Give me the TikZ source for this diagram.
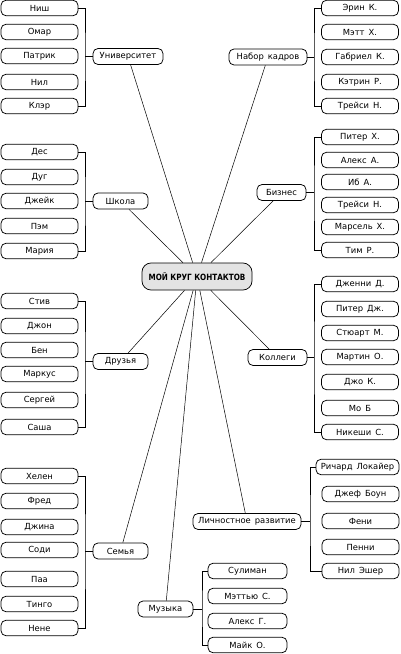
\documentclass[tikz,border=0pt]{standalone}
\usepackage{fontspec}
\setmainfont{DejaVu Sans}[WordSpace=1.5]
\newfontfamily\titlefont{DejaVu Sans}[FakeStretch=0.84]
\begin{document}
\begin{tikzpicture}[x=1pt,y=-1pt,
  box/.style={draw, rounded corners=5pt, line width=0.75pt, minimum height=15.5pt, inner sep=0pt, font=\fontsize{8.4}{10}\selectfont},
  leaf/.style={box, minimum width=77pt},
  cat/.style={box, minimum height=16pt},
  link/.style={line width=0.5pt},
  hub/.style={draw, fill=gray!22, rounded corners=9pt, line width=0.75pt, minimum width=110pt, minimum height=27pt, inner sep=0pt, font=\titlefont\bfseries\fontsize{8.6}{10}\selectfont}
]
\useasboundingbox (0,0) rectangle (400,654);

% centre
\node[hub] (c) at (197,276.5) {МОЙ КРУГ КОНТАКТОВ};

% categories
\node[cat, minimum width=70pt] (univ) at (128,56.5) {Университет};
\node[cat, minimum width=78pt] (hr) at (268,57) {Набор кадров};
\node[cat, minimum width=55pt] (school) at (120.5,201) {Школа};
\node[cat, minimum width=49pt] (biz) at (281.5,192.5) {Бизнес};
\node[cat, minimum width=55pt] (friends) at (120.5,361.5) {Друзья};
\node[cat, minimum width=59pt] (coll) at (277.5,357.5) {Коллеги};
\node[cat, minimum width=55pt] (family) at (120.5,551) {Семья};
\node[cat, minimum width=55pt] (music) at (165.5,609) {Музыка};
\node[cat, minimum width=108pt] (pers) at (247,521.5) {Личностное развитие};

\foreach \n in {univ,hr,school,biz,friends,coll,family,music,pers}
  \draw[link] (c) -- (\n);

% Университет
\foreach \y/\t [count=\i] in {8/Ниш,32/Омар,56/Патрик,82/Нил,106/Клэр}
  \node[leaf] (u\i) at (39.5,\y) {\t};
\coordinate (ub) at (85,56.5);
\draw[link] (u1.east) -| (ub) |- (u5.east);
\draw[link] (ub) -- (univ.west);

% Набор кадров
\foreach \y/\t [count=\i] in {8/Эрин К.,32/Мэтт Х.,57/Габриел К.,82/Кэтрин Р.,106/Трейси Н.}
  \node[leaf] (h\i) at (360,\y) {\t};
\coordinate (hb) at (314,57);
\draw[link] (h1.west) -| (hb) |- (h5.west);
\draw[link] (hb) -- (hr.east);

% Школа
\foreach \y/\t [count=\i] in {152/Дес,177/Дуг,201/Джейк,226/Пэм,251/Мария}
  \node[leaf] (s\i) at (39.5,\y) {\t};
\coordinate (sb) at (85,201);
\draw[link] (s1.east) -| (sb) |- (s5.east);
\draw[link] (sb) -- (school.west);

% Бизнес
\foreach \y/\t [count=\i] in {137/Питер Х.,160/Алекс А.,182/Иб А.,205/Трейси Н.,227/Марсель Х.,250/Тим Р.}
  \node[leaf] (b\i) at (360,\y) {\t};
\coordinate (bb) at (314,192.5);
\draw[link] (b1.west) -| (bb) |- (b6.west);
\draw[link] (bb) -- (biz.east);

% Друзья
\foreach \y/\t [count=\i] in {301/Стив,326/Джон,350/Бен,374/Маркус,400/Сергей,427/Саша}
  \node[leaf] (f\i) at (39.5,\y) {\t};
\coordinate (fb) at (85,361.5);
\draw[link] (f1.east) -| (fb) |- (f6.east);
\draw[link] (fb) -- (friends.west);

% Коллеги
\foreach \y/\t [count=\i] in {284/Дженни Д.,309/Питер Дж.,333/Стюарт М.,357/Мартин О.,382/Джо К.,408/Мо Б,432/Никеши С.}
  \node[leaf] (k\i) at (360,\y) {\t};
\coordinate (kb) at (314,357.5);
\draw[link] (k1.west) -| (kb) |- (k7.west);
\draw[link] (kb) -- (coll.east);

% Семья
\foreach \y/\t [count=\i] in {476/Хелен,501/Фред,527/Джина,550/Соди,579/Паа,604/Тинго,628/Нене}
  \node[leaf] (m\i) at (39.5,\y) {\t};
\coordinate (mb) at (85,551);
\draw[link] (m1.east) -| (mb) |- (m7.east);
\draw[link] (mb) -- (family.west);

% Музыка
\foreach \y/\t [count=\i] in {571/Сулиман,596/Мэттью С.,621/Алекс Г.,645/Майк О.}
  \node[leaf, minimum width=79pt] (z\i) at (247.5,\y) {\t};
\coordinate (zb) at (202,609);
\draw[link] (z1.west) -| (zb) |- (z4.west);
\draw[link] (zb) -- (music.east);

% Личностное развитие
\node[leaf, minimum width=83pt] (p1) at (357.5,467) {Ричард Локайер};
\foreach \y/\t [count=\i from 2] in {494/Джеф Боун,521/Фени,547/Пенни,571/Нил Эшер}
  \node[leaf] (p\i) at (360.5,\y) {\t};
\coordinate (pb) at (310,521.5);
\draw[link] (p1.west) -| (pb) |- (p5.west);
\draw[link] (pb) -- (pers.east);
\end{tikzpicture}
\end{document}
